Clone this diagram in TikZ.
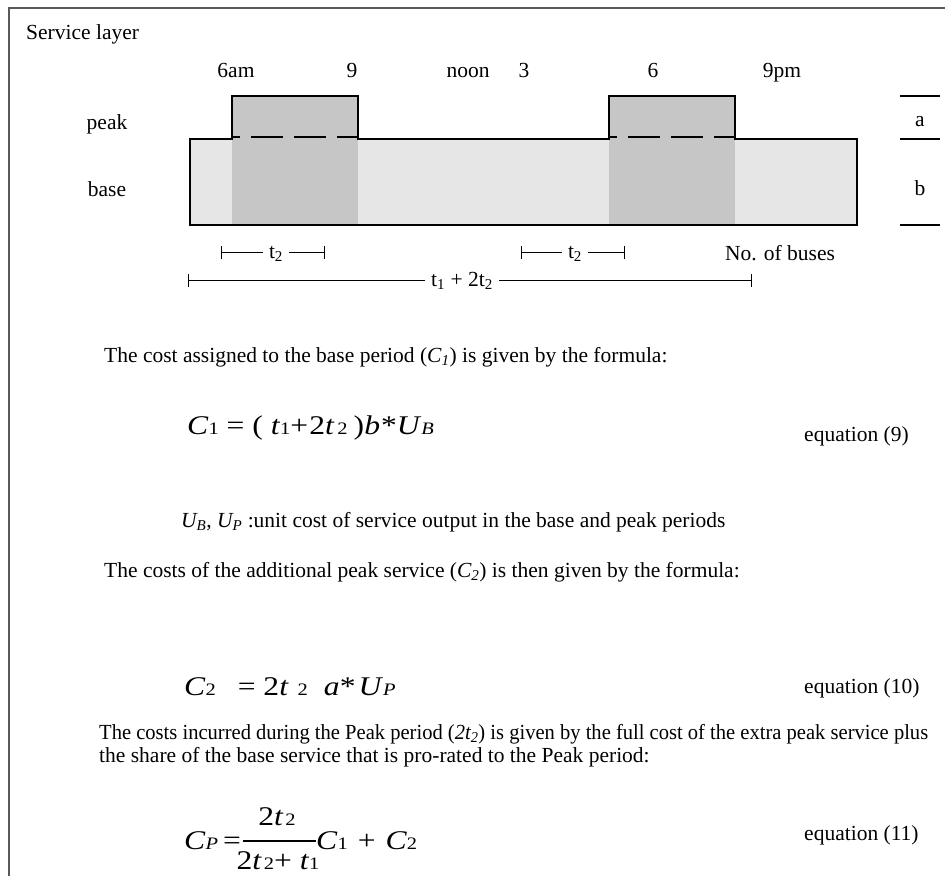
\documentclass[tikz,border=0pt]{standalone}
\usepackage{fontspec}
\setmainfont{Liberation Serif}
\newfontfamily\eqfont[FakeStretch=1.17]{Liberation Serif}
\usepackage{graphicx}
\usepackage{xcolor}
\usepackage{tikz}
\usetikzlibrary{positioning}
\definecolor{cinzapico}{HTML}{C6C6C6}
\definecolor{cinzabase}{HTML}{E6E6E6}
\newcommand\ind[1]{{\fontsize{17.5}{17.5}\selectfont #1}}
\tikzset{
  rotulo/.style={font=\fontsize{21.5}{24}\selectfont, inner sep=0pt},
  formula/.style={font=\eqfont\fontsize{27}{30}\selectfont, inner sep=0pt, anchor=base west},
  grosso/.style={line width=2.4pt},
  fino/.style={line width=1pt},
}

\begin{document}
\begin{tikzpicture}[x=1pt, y=-1pt,
  texto/.style={rotulo, anchor=base west},
  cota/.style={rotulo, anchor=base, inner xsep=6pt},
  tracos/.style={grosso, dash pattern=on 32pt off 11pt, dash phase=24pt}]
  \useasboundingbox (0,0) rectangle (945,876);
  \draw[line width=1.3pt, black!65] (9,876) -- (9,8) -- (945,8);

  \node[rotulo, anchor=west] (camada) at (26,34) {Service layer};
  \foreach \h/\x in {6am/236, 9/352, noon/468, 3/524, 6/653, 9pm/782}
    \node[rotulo, anchor=base] (h\h) at (\x,77) {\h};

  % camadas de servico
  \fill[cinzabase] (190,139) rectangle (857,225);
  \fill[cinzapico] (232,96) rectangle (358,225);
  \fill[cinzapico] (609,96) rectangle (735,225);
  \draw[grosso] (232,139) -- (190,139) -- (190,225) -- (857,225) -- (857,139)
    -- (735,139) -- (735,96) -- (609,96) -- (609,139) -- (358,139) -- (358,96)
    -- (232,96) -- cycle;
  \draw[tracos] (232,137) -- (358,137);
  \draw[tracos] (609,137) -- (735,137);

  \node[rotulo] (pico) at (107,124) {peak};
  \node[rotulo] (base) at (107,189) {base};
  \foreach \y in {96,139,225}
    \draw[grosso] (900,\y) -- (940,\y);
  \node[rotulo] (la) at (920,122) {a};
  \node[rotulo] (lb) at (920,188) {b};

  % cotas de tempo
  \node[cota] (ta) at (276,258) {t\textsubscript{2}};
  \node[cota] (tb) at (575,258) {t\textsubscript{2}};
  \node[cota] (tt) at (462,286) {t\textsubscript{1} + 2t\textsubscript{2}};
  \node[rotulo, anchor=base] (onibus) at (780,260) {No. of buses};
  \foreach \n/\a/\b/\y in {ta/221/324/252.5, tb/521/624/252.5, tt/188/751/280.5} {
    \coordinate (\n e) at (\a,\y);
    \coordinate (\n d) at (\b,\y);
    \draw[fino] (\n e) -- (\n e -| \n.west);
    \draw[fino] (\n d -| \n.east) -- (\n d);
    \draw[fino] ([yshift=-6.5pt]\n e) -- ([yshift=6.5pt]\n e);
    \draw[fino] ([yshift=-6.5pt]\n d) -- ([yshift=6.5pt]\n d);
  }

  % texto e formulas
  \node[texto] (p1) at (104,362) {The cost assigned to the base period (\textit{C\textsubscript{1}}) is given by the formula:};
  \node[formula] (f9) at (187,434) {\textit{C}\ind{1} = ( \textit{t}\ind{1}+\hspace{1pt}2\textit{t}\hspace{3pt}\ind{2}\hspace{6pt})\textit{b}\hspace{1pt}*\textit{U}\ind{\textit{B}}};
  \node[texto] (e9) at (804,441) {equation (9)};
  \node[texto] (un) at (181,527) {\textit{U\textsubscript{B}}, \textit{U\textsubscript{P}} :unit cost of service output in the base and peak periods};
  \node[texto] (p2) at (104,577) {The costs of the additional peak service (\textit{C\textsubscript{2}}) is then given by the formula:};
  \node[formula] (f10) at (184,695) {\textit{C}\ind{2}\hspace{22pt}= 2\textit{t}\hspace{9pt}\ind{2}\hspace{16pt}\textit{a}*\hspace{3pt}\textit{U}\ind{\textit{P}}};
  \node[texto] (e10) at (804,693) {equation (10)};
  \node[texto] (p3) at (99,739) {\resizebox{829pt}{\height}{The costs incurred during the Peak period (\textit{2t\textsubscript{2}}) is given by the full cost of the extra peak service plus}};
  \node[texto] (p4) at (99,762) {the share of the base service that is pro-rated to the Peak period:};
  \node[formula] (cp) at (184,849) {\textit{C}\ind{\textit{P}}\hspace{5pt}=};
  \node[formula, anchor=base] (num) at (277,825) {2\textit{t}\hspace{2pt}\ind{2}};
  \node[formula, anchor=base] (den) at (278,869) {2\textit{t}\hspace{2pt}\ind{2}+ \textit{t}\ind{1}};
  \node[formula] (resto) at (316,849) {\textit{C}\ind{1}\hspace{10pt}+\hspace{10pt}\textit{C}\ind{2}};
  \draw[line width=1.3pt] (cp.east |- 0,841) ++(2,0) coordinate (fe) -- (fe -| resto.west);
  \node[texto] (e11) at (804,840) {equation (11)};
\end{tikzpicture}
\end{document}
